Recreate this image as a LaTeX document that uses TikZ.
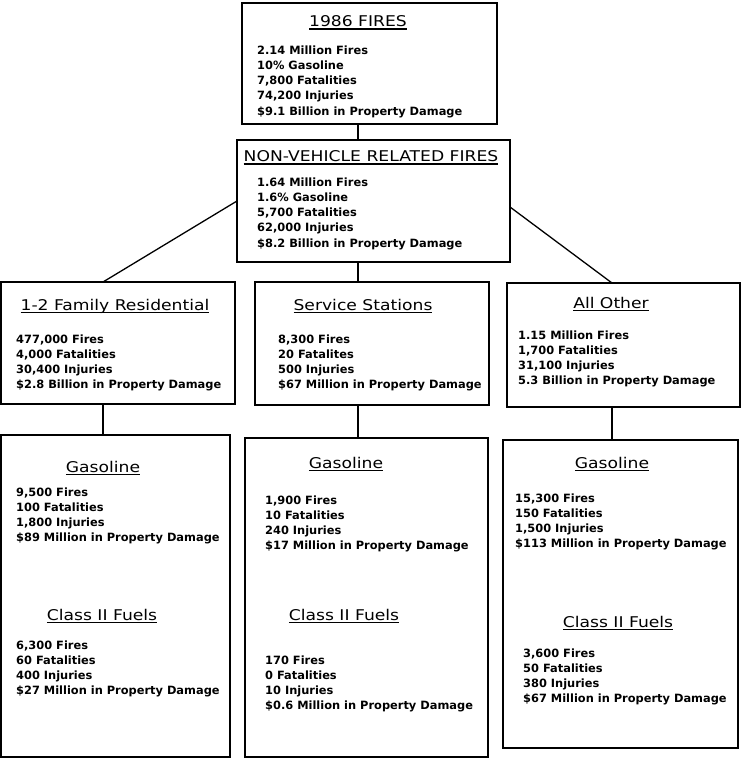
\documentclass[tikz,border=0pt]{standalone}
\usepackage{fontspec}
\newfontfamily\factfont{DejaVu Sans}
\newfontfamily\headfont[FakeStretch=1.16]{DejaVu Sans}
\usepackage{tikz}
\newcommand\ttlul[1]{\setbox0\hbox{#1}\copy0\kern-\wd0\rule[-2.6pt]{\wd0}{1.1pt}}
\tikzset{
    box/.style={draw,line width=1.6pt,inner sep=0pt,outer sep=0pt},
    heading/.style={font=\headfont\fontsize{14.8}{16}\selectfont,inner sep=0pt,anchor=base},
    facts/.style={font=\factfont\bfseries\fontsize{11.4}{15.2}\selectfont,align=left,anchor=north west,inner sep=0pt},
    link/.style={line width=1.3pt}
}

\begin{document}
\begin{tikzpicture}[x=1pt,y=-1pt]
                            \useasboundingbox (0,0) rectangle (741,759);
                            \node[box,minimum width=255pt,minimum height=121pt] (fires) at (369.5,63.5) {};
                            \node[box,minimum width=273pt,minimum height=122pt] (nonveh) at (373.5,201) {};
                            \node[box,minimum width=234pt,minimum height=122pt] (resid) at (118,343) {};
                            \node[box,minimum width=234pt,minimum height=123pt] (station) at (372,343.5) {};
                            \node[box,minimum width=233pt,minimum height=124pt] (other) at (623.5,345) {};
                            \node[box,minimum width=229pt,minimum height=322pt] (residbot) at (115.5,596) {};
                            \node[box,minimum width=243pt,minimum height=319pt] (stationbot) at (366.5,597.5) {};
                            \node[box,minimum width=235pt,minimum height=308pt] (otherbot) at (620.5,594) {};

                            \node[heading] (firesttl) at (358,27) {\ttlul{1986 FIRES}};
                            \node[facts] (firesfacts) at (257,45.5) {2.14 Million Fires\\10\% Gasoline\\7,800 Fatalities\\74,200 Injuries\\\$9.1 Billion in Property Damage};
                            \node[heading] (nonvehttl) at (371,162) {\ttlul{NON-VEHICLE RELATED FIRES}};
                            \node[facts] (nonvehfacts) at (257,177.5) {1.64 Million Fires\\1.6\% Gasoline\\5,700 Fatalities\\62,000 Injuries\\\$8.2 Billion in Property Damage};

                            \node[heading] (residttl) at (115,310) {\ttlul{1-2 Family Residential}};
                            \node[facts] (residfacts) at (16,334.5) {477,000 Fires\\4,000 Fatalities\\30,400 Injuries\\\$2.8 Billion in Property Damage};
                            \node[heading] (stationttl) at (363,310) {\ttlul{Service Stations}};
                            \node[facts] (stationfacts) at (278,334.5) {8,300 Fires\\20 Fatalites\\500 Injuries\\\$67 Million in Property Damage};
                            \node[heading] (otherttl) at (611,308) {\ttlul{All Other}};
                            \node[facts] (otherfacts) at (518,330.5) {1.15 Million Fires\\1,700 Fatalities\\31,100 Injuries\\5.3 Billion in Property Damage};

                            \node[heading] (residgasttl) at (103,472) {\ttlul{Gasoline}};
                            \node[facts] (residgas) at (16,487.5) {9,500 Fires\\100 Fatalities\\1,800 Injuries\\\$89 Million in Property Damage};
                            \node[heading] (residclassttl) at (102,620) {\ttlul{Class II Fuels}};
                            \node[facts] (residclass) at (16,640.5) {6,300 Fires\\60 Fatalities\\400 Injuries\\\$27 Million in Property Damage};

                            \node[heading] (stationgasttl) at (346,468) {\ttlul{Gasoline}};
                            \node[facts] (stationgas) at (265,495.5) {1,900 Fires\\10 Fatalities\\240 Injuries\\\$17 Million in Property Damage};
                            \node[heading] (stationclassttl) at (344,620) {\ttlul{Class II Fuels}};
                            \node[facts] (stationclass) at (265,655.5) {170 Fires\\0 Fatalities\\10 Injuries\\\$0.6 Million in Property Damage};

                            \node[heading] (othergasttl) at (612,468) {\ttlul{Gasoline}};
                            \node[facts] (othergas) at (515,493.5) {15,300 Fires\\150 Fatalities\\1,500 Injuries\\\$113 Million in Property Damage};
                            \node[heading] (otherclassttl) at (618,627) {\ttlul{Class II Fuels}};
                            \node[facts] (otherclass) at (523,648.5) {3,600 Fires\\50 Fatalities\\380 Injuries\\\$67 Million in Property Damage};

                            \coordinate (midstem) at (358,0);
                            \coordinate (leftstem) at (103,0);
                            \coordinate (rightstem) at (612,0);
                            \draw[link] (fires.south -| midstem) -- (nonveh.north -| midstem);
                            \draw[link] (nonveh.west) -- (resid.north -| leftstem);
                            \draw[link] ([yshift=-6pt]nonveh.east) -- (other.north -| rightstem);
                            \draw[link] (nonveh.south -| midstem) -- (station.north -| midstem);
                            \draw[link] (resid.south -| leftstem) -- (residbot.north -| leftstem);
                            \draw[link] (station.south -| midstem) -- (stationbot.north -| midstem);
                            \draw[link] (other.south -| rightstem) -- (otherbot.north -| rightstem);
                        \end{tikzpicture}
\end{document}
